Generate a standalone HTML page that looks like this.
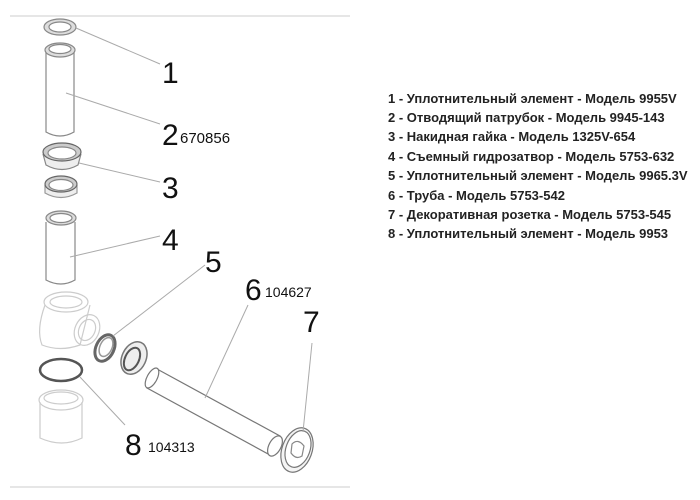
<!DOCTYPE html>
<html><head><meta charset="utf-8"><style>
html,body{margin:0;padding:0;background:#fff;}
svg{display:block}
.lbl{font-family:"Liberation Sans",sans-serif;fill:#111}
.leg{font-family:"Liberation Sans","Noto Sans CJK SC",sans-serif;font-weight:bold;font-size:13px;fill:#222}
</style></head><body>
<svg width="700" height="500" viewBox="0 0 700 500">
<line x1="10" y1="16" x2="350" y2="16" stroke="#e6e6e6" stroke-width="2"/>
<line x1="10" y1="487" x2="350" y2="487" stroke="#e6e6e6" stroke-width="2"/>
<g fill="none" stroke="#888" stroke-width="1.2">
<ellipse cx="60" cy="27" rx="16" ry="8" fill="#ddd"/>
<ellipse cx="60" cy="27" rx="11" ry="5" fill="#fff"/>
<path d="M46 52 L46 132 Q60 140 74 132 L74 52" fill="#fff"/>
<ellipse cx="60" cy="50" rx="15" ry="7" fill="#ddd"/>
<ellipse cx="60" cy="49" rx="11" ry="4.5" fill="#fff"/>
<path d="M43 154 L46 165 Q62 174 78 165 L81 154" fill="#eee"/>
<ellipse cx="62" cy="152" rx="19" ry="9" fill="#ccc" stroke="#666"/>
<ellipse cx="62" cy="153" rx="14" ry="6" fill="#fff"/>
<path d="M45 185 L45 193 Q61 202 77 193 L77 185" fill="#eee" stroke="#999"/>
<ellipse cx="61" cy="184" rx="16" ry="8" fill="#ccc" stroke="#666"/>
<ellipse cx="61" cy="185" rx="12" ry="5.5" fill="#fff"/>
<path d="M46 222 L46 280 Q61 288 75 280 L75 222" fill="#fff"/>
<ellipse cx="61" cy="218" rx="15" ry="7" fill="#ddd"/>
<ellipse cx="61" cy="218" rx="11" ry="4.5" fill="#fff"/>
</g>
<g fill="none" stroke="#ccc" stroke-width="1.2">
<path d="M45 305 Q36 330 42 345 Q60 352 80 345 L90 305"/>
<ellipse cx="66" cy="302" rx="22" ry="10"/>
<ellipse cx="66" cy="302" rx="16" ry="6"/>
<ellipse cx="87" cy="330" rx="12" ry="16" transform="rotate(25 87 330)"/>
<ellipse cx="87" cy="330" rx="8" ry="11" transform="rotate(25 87 330)"/>
<path d="M40 402 L40 438 Q62 448 82 438 L82 402"/>
<ellipse cx="61" cy="400" rx="22" ry="10"/>
<ellipse cx="61" cy="398" rx="17" ry="6"/>
</g>
<g fill="none" stroke="#555" stroke-width="1.5">
<ellipse cx="105" cy="348" rx="9" ry="14" transform="rotate(25 105 348)" stroke-width="3" stroke="#666"/>
<ellipse cx="106" cy="347" rx="6" ry="10" transform="rotate(25 106 347)" stroke="#999"/>
<ellipse cx="134" cy="358" rx="12" ry="17" transform="rotate(25 134 358)" fill="#eee" stroke="#777"/>
<ellipse cx="132" cy="359" rx="7" ry="12" transform="rotate(25 132 359)" stroke="#555" stroke-width="2"/>
<ellipse cx="61" cy="370" rx="21" ry="11" stroke="#555" stroke-width="2.5"/>
</g>
<g fill="#fff" stroke="#777" stroke-width="1.2">
<path d="M157 369 L280 436 L270 455 L147 388 Z"/>
<ellipse cx="152" cy="378" rx="5" ry="11" transform="rotate(28 152 378)"/>
<ellipse cx="275" cy="446" rx="6" ry="11" transform="rotate(28 275 446)"/>
<ellipse cx="297" cy="450" rx="15" ry="23" transform="rotate(20 297 450)" fill="#f4f4f4"/>
<ellipse cx="298" cy="449" rx="12" ry="19" transform="rotate(20 298 449)"/>
<path d="M292 444 Q298 438 304 446 L302 456 Q296 460 291 453 Z" stroke="#888"/>
</g>
<g stroke="#aaa" stroke-width="1" fill="none">
<line x1="76" y1="28" x2="160" y2="64"/>
<line x1="66" y1="93" x2="160" y2="124"/>
<line x1="79" y1="163" x2="160" y2="182"/>
<line x1="70" y1="257" x2="160" y2="236"/>
<line x1="113" y1="336" x2="205" y2="265"/>
<line x1="205" y1="398" x2="248" y2="305"/>
<line x1="312" y1="343" x2="303" y2="432"/>
<line x1="80" y1="377" x2="125" y2="425"/>
</g>
<g class="lbl">
<text x="162" y="83" font-size="30">1</text>
<text x="162" y="145" font-size="30">2</text>
<text x="180" y="143" font-size="15">670856</text>
<text x="162" y="198" font-size="30">3</text>
<text x="162" y="250" font-size="30">4</text>
<text x="205" y="272" font-size="30">5</text>
<text x="245" y="300" font-size="30">6</text>
<text x="265" y="297" font-size="14">104627</text>
<text x="303" y="332" font-size="30">7</text>
<text x="125" y="455" font-size="30">8</text>
<text x="148" y="452" font-size="14">104313</text>
</g>
<g class="leg">
<text x="388" y="103">1 - Уплотнительный элемент - Модель 9955V</text>
<text x="388" y="122">2 - Отводящий патрубок - Модель 9945-143</text>
<text x="388" y="141">3 - Накидная гайка - Модель 1325V-654</text>
<text x="388" y="161">4 - Съемный гидрозатвор - Модель 5753-632</text>
<text x="388" y="180">5 - Уплотнительный элемент - Модель 9965.3V</text>
<text x="388" y="200">6 - Труба - Модель 5753-542</text>
<text x="388" y="219">7 - Декоративная розетка - Модель 5753-545</text>
<text x="388" y="238">8 - Уплотнительный элемент - Модель 9953</text>
</g>
</svg>
</body></html>
